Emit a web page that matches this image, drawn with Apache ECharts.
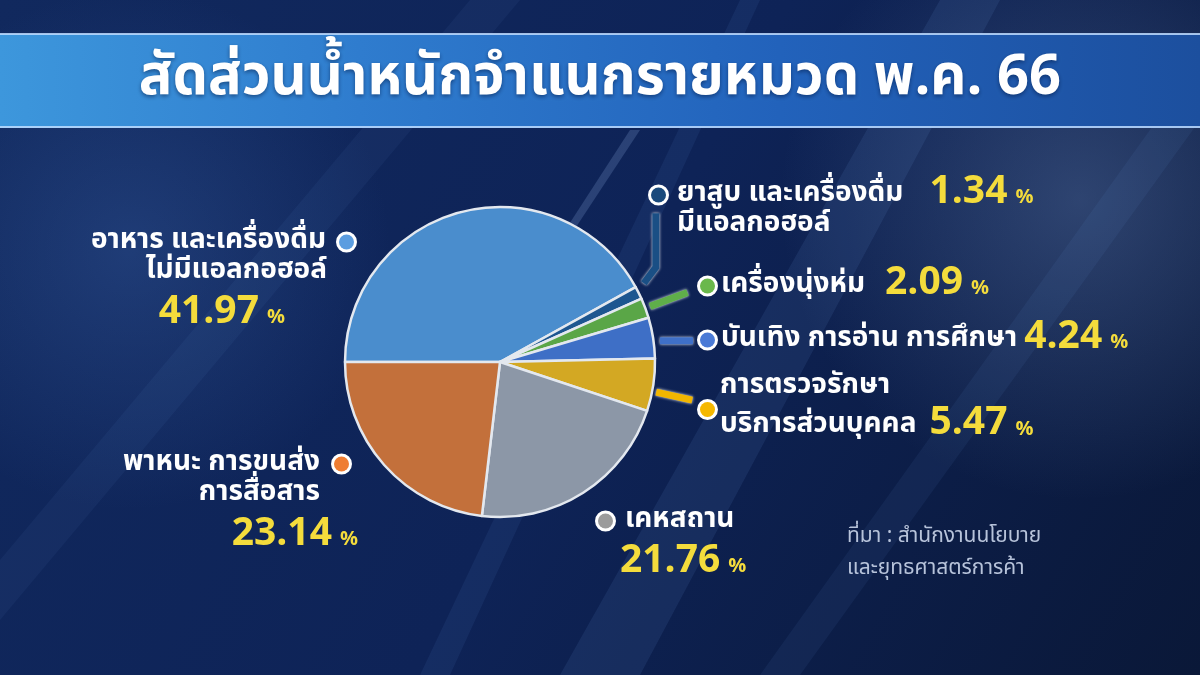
<!DOCTYPE html>
<html>
<head>
<meta charset="utf-8">
<script src="https://cdn.jsdelivr.net/npm/echarts@6/dist/echarts.min.js"></script>
<style>
  html, body { margin: 0; padding: 0; background: #0b1a3d; }
  #main { width: 1200px; height: 675px; }
</style>
</head>
<body>
<div id="main"></div>
<script>
// data
var nameLine1 = ['อาหาร และเครื่องดื่ม', 'ยาสูบ และเครื่องดื่ม', 'เครื่องนุ่งห่ม', 'บันเทิง การอ่าน การศึกษา', 'การตรวจรักษา', 'เคหสถาน', 'พาหนะ การขนส่ง'];
var nameLine2 = ['ไม่มีแอลกอฮอล์', 'มีแอลกอฮอล์', '', '', 'บริการส่วนบุคคล', '', 'การสื่อสาร'];
var shares = [41.97, 1.34, 2.09, 4.24, 5.47, 21.76, 23.14];
var titleText = 'สัดส่วนน้ำหนักจำแนกรายหมวด พ.ค. 66';
var sourceText = 'ที่มา : สำนักงานนโยบาย\nและยุทธศาสตร์การค้า';

// styles
var sliceColors = ['#4a8dcd', '#1d5690', '#5aa647', '#3e6fc6', '#d3a823', '#8c97a7', '#c3703b'];
var dotColors = ['#5b9de0', '#1a4a7c', '#6ab84b', '#4a7ad6', '#f5b800', '#9b9b9b', '#ef7d32'];
var barColors = [null, '#1a4f85', '#5fae4a', '#3f70c8', '#f2b600', null, null];
var FONT = '"Noto Sans Thai", "Noto Sans", sans-serif';
var CX = 500, CY = 362, R = 155;

var chart = echarts.init(document.getElementById('main'));

var rich = {
  n: { fontFamily: FONT, fontSize: 28, fontWeight: 'bold', color: '#ffffff', lineHeight: 30 },
  v: { fontFamily: FONT, fontSize: 39, fontWeight: 'bold', color: '#f4dc3c', lineHeight: 30 },
  vb: { fontFamily: FONT, fontSize: 39, fontWeight: 'bold', color: '#f4dc3c', lineHeight: 56 },
  pct: { fontFamily: FONT, fontSize: 20, fontWeight: 'bold', color: '#f4dc3c', lineHeight: 30, padding: [8, 0, 0, 0] }
};
dotColors.forEach(function (c, i) {
  rich['dot' + i] = { width: 15, height: 15, borderRadius: 10, backgroundColor: c, borderColor: '#ffffff', borderWidth: 3 };
});
rich.dot4.lineHeight = 49;
rich.dot4.verticalAlign = 'top';
function sp(w) {
  rich['s' + w] = { width: w };
  return '{s' + w + '|}';
}

function labelText(i) {
  var a = nameLine1[i], b = nameLine2[i], v = shares[i].toFixed(2);
  switch (i) {
    case 0: return '{n|' + a + '}' + sp(13) + '{dot0|}\n{n|' + b + '}' + sp(27) + '\n{vb|' + v + '}' + sp(8) + '{pct|%}' + sp(69);
    case 1: return '{dot1|}' + sp(11) + '{n|' + a + '}' + sp(26) + '{v|' + v + '}' + sp(8) + '{pct|%}\n' + sp(26) + '{n|' + b + '}';
    case 2: return '{dot2|}' + sp(6) + '{n|' + a + '}' + sp(20) + '{v|' + v + '}' + sp(8) + '{pct|%}';
    case 3: return '{dot3|}' + sp(6) + '{n|' + a + '}' + sp(7) + '{v|' + v + '}' + sp(8) + '{pct|%}';
    case 4: return sp(20) + '{n|' + a + '}\n{dot4|}' + sp(5) + '{n|' + b + '}' + sp(13) + '{v|' + v + '}' + sp(8) + '{pct|%}';
    case 5: return '{dot5|}' + sp(12) + '{n|' + a + '}\n' + sp(22) + '{vb|' + v + '}' + sp(8) + '{pct|%}';
    default: return '{n|' + a + '}' + sp(14) + '{dot6|}' + sp(9) + '\n{n|' + b + '}' + sp(38) + '\n{vb|' + v + '}' + sp(8) + '{pct|%}';
  }
}

// label anchors (layout only)
var labelSpots = [
  { x: 354, y: 227, align: 'right' },
  { x: 651, y: 180, align: 'left' },
  { x: 700, y: 271, align: 'left' },
  { x: 700, y: 325, align: 'left' },
  { x: 700, y: 372, align: 'left' },
  { x: 598, y: 506, align: 'left' },
  { x: 358, y: 449, align: 'right' }
];

// mid angle of each slice, for the short connector bars
var total = shares.reduce(function (s, x) { return s + x; }, 0);
var acc = 0;
var midAngles = shares.map(function (x) {
  var m = 180 - 360 * (acc + x / 2) / total;
  acc += x;
  return m * Math.PI / 180;
});
function polar(a, r) { return [CX + r * Math.cos(a), CY - r * Math.sin(a)]; }
function barPoints(i) {
  var p = polar(midAngles[i], R + 8);
  if (i === 1) return [[p[0] - 2, p[1] - 6], [p[0] + 10, p[1] - 22], [p[0] + 10, p[1] - 76]];
  if (i === 2) return [polar(midAngles[i], R + 5), polar(midAngles[i], R + 45)];
  if (i === 3) return [[p[0] - 1, p[1] + 4], [p[0] + 32, p[1] + 4]];
  if (i === 4) return [[p[0] - 5, p[1] + 6], [p[0] + 31, p[1] + 14]];
  return null;
}

var seriesData = shares.map(function (v, i) {
  var hasBar = barColors[i] !== null;
  return {
    name: nameLine1[i] + ' ' + nameLine2[i],
    value: v,
    itemStyle: { color: sliceColors[i] },
    label: { formatter: labelText(i) },
    labelLine: {
      show: hasBar,
      lineStyle: { color: barColors[i] || '#fff', width: 7, shadowColor: 'rgba(255,255,255,0.95)', shadowBlur: 3 }
    }
  };
});

var option = {
  backgroundColor: {
    type: 'linear', x: 0, y: 0, x2: 1, y2: 1,
    colorStops: [
      { offset: 0, color: '#11295e' },
      { offset: 0.5, color: '#0e2357' },
      { offset: 1, color: '#0a1838' }
    ]
  },
  graphic: [
    // background glow and streaks
    { type: 'circle', silent: true, z: -10, shape: { cx: 1080, cy: 200, r: 300 },
      style: { fill: { type: 'radial', x: 0.5, y: 0.5, r: 0.5, colorStops: [
        { offset: 0, color: 'rgba(110,140,190,0.35)' }, { offset: 1, color: 'rgba(110,140,190,0)' }] } } },
    { type: 'circle', silent: true, z: -10, shape: { cx: 130, cy: 250, r: 260 },
      style: { fill: { type: 'radial', x: 0.5, y: 0.5, r: 0.5, colorStops: [
        { offset: 0, color: 'rgba(60,100,170,0.35)' }, { offset: 1, color: 'rgba(60,100,170,0)' }] } } },
    { type: 'polygon', silent: true, z: -10, shape: { points: [[560, 675], [640, 675], [1000, 0], [940, 0]] },
      style: { fill: 'rgba(120,170,240,0.10)' } },
    { type: 'polygon', silent: true, z: -10, shape: { points: [[420, 675], [450, 675], [760, 0], [740, 0]] },
      style: { fill: 'rgba(120,170,240,0.08)' } },
    { type: 'polygon', silent: true, z: -10, shape: { points: [[0, 560], [0, 620], [520, 0], [470, 0]] },
      style: { fill: 'rgba(120,170,240,0.06)' } },
    { type: 'polygon', silent: true, z: -10, shape: { points: [[760, 675], [800, 675], [1200, 120], [1200, 60]] },
      style: { fill: 'rgba(120,170,240,0.07)' } },
    { type: 'polygon', silent: true, z: -10, shape: { points: [[520, 300], [528, 300], [640, 130], [630, 130]] },
      style: { fill: 'rgba(170,205,255,0.18)' } },
    // title band
    { type: 'rect', silent: true, z: -5, shape: { x: 0, y: 34, width: 1200, height: 94 },
      style: { fill: { type: 'linear', x: 0, y: 0, x2: 1, y2: 0, colorStops: [
        { offset: 0, color: '#3d97dc' }, { offset: 0.3, color: '#2f7cce' },
        { offset: 0.65, color: '#2262bb' }, { offset: 1, color: '#1c4f9e' }] } } },
    { type: 'rect', silent: true, z: -4, shape: { x: 0, y: 33, width: 1200, height: 2 },
      style: { fill: 'rgba(190,220,255,0.85)' } },
    { type: 'rect', silent: true, z: -4, shape: { x: 0, y: 126, width: 1200, height: 2 },
      style: { fill: 'rgba(190,220,255,0.85)' } }
  ],
  title: [
    {
      text: titleText,
      left: 'center',
      top: 50,
      textStyle: { fontFamily: FONT, fontSize: 56, fontWeight: 'bold', color: '#ffffff',
        textShadowColor: 'rgba(0,20,60,0.5)', textShadowBlur: 4, textShadowOffsetY: 2 }
    },
    {
      text: sourceText,
      left: 842,
      top: 517,
      textStyle: { fontFamily: FONT, fontSize: 21, fontWeight: 'normal', color: '#b7c3da', lineHeight: 32 }
    }
  ],
  series: [
    {
      type: 'pie',
      center: [CX, CY],
      radius: R,
      startAngle: 180,
      clockwise: true,
      avoidLabelOverlap: false,
      itemStyle: { borderColor: '#e3e8ef', borderWidth: 2.5 },
      label: { show: true, position: 'outside', rich: rich, fontFamily: FONT },
      labelLine: { length: 10, length2: 10 },
      emphasis: { disabled: true },
      labelLayout: function (params) {
        var s = labelSpots[params.dataIndex];
        var out = { x: s.x, y: s.y, align: s.align, verticalAlign: 'top' };
        var pts = barPoints(params.dataIndex);
        if (pts) out.labelLinePoints = pts;
        return out;
      },
      data: seriesData
    }
  ]
};
chart.setOption(option);
</script>
</body>
</html>
